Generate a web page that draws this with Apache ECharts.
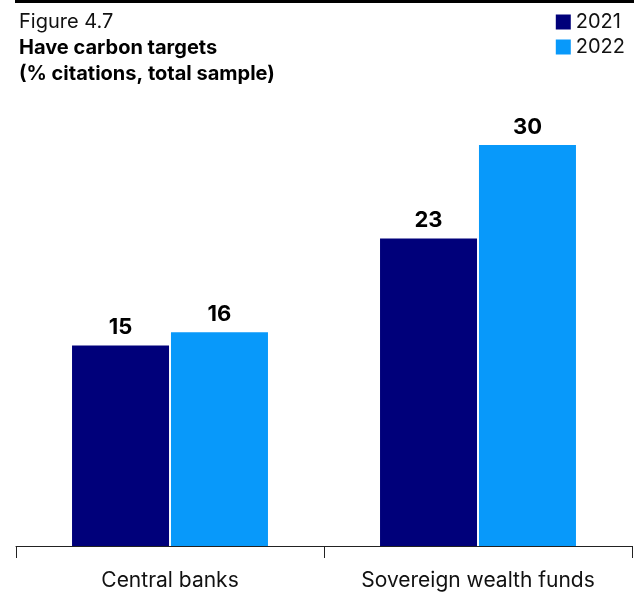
<!DOCTYPE html>
<html>
<head>
<meta charset="utf-8">
<script src="https://cdn.jsdelivr.net/npm/echarts@6/dist/echarts.min.js"></script>
<style>
  html, body { margin: 0; padding: 0; background: #fff; }
  #chart { width: 634px; height: 592px; }
</style>
</head>
<body>
<div id="chart"></div>
<script>
var categories = ['Central banks', 'Sovereign wealth funds']
var years = ['2021', '2022']
var values2021 = [15, 23]
var values2022 = [16, 30]

var font = 'Inter, "Noto Sans", sans-serif'
var chart = echarts.init(document.getElementById('chart'))

var labelStyle = {
  show: true,
  position: 'top',
  distance: 7,
  color: '#000',
  fontSize: 22,
  fontWeight: 'bold',
  fontFamily: font
}

chart.setOption({
  animation: false,
  textStyle: { fontFamily: font },
  graphic: [
    {
      type: 'rect',
      shape: { x: 15, y: 0, width: 619, height: 3 },
      style: { fill: '#000' }
    }
  ],
  title: [
    {
      text: 'Figure 4.7',
      left: 14,
      top: 7,
      textStyle: { fontFamily: font, fontSize: 20, fontWeight: 'normal', color: '#111' }
    },
    {
      text: 'Have carbon targets\n(% citations, total sample)',
      left: 14,
      top: 30,
      textStyle: { fontFamily: font, fontSize: 20, fontWeight: 'bold', color: '#000', lineHeight: 26 }
    }
  ],
  legend: {
    data: years,
    orient: 'vertical',
    right: 4,
    top: 7,
    itemWidth: 15,
    itemHeight: 15,
    itemGap: 5,
    icon: 'rect',
    textStyle: { fontFamily: font, fontSize: 20, color: '#111' }
  },
  grid: {
    left: 16,
    right: 2,
    top: 145,
    bottom: 46
  },
  xAxis: {
    type: 'category',
    data: categories,
    axisLine: { lineStyle: { color: '#222', width: 1 } },
    axisTick: { show: true, length: 12, lineStyle: { color: '#222' } },
    axisLabel: { color: '#111', fontSize: 21, margin: 24, fontFamily: font }
  },
  yAxis: {
    type: 'value',
    min: 0,
    max: 30,
    show: false
  },
  series: [
    {
      name: '2021',
      type: 'bar',
      data: values2021,
      barWidth: 97,
      barGap: '2%',
      itemStyle: { color: '#00007a' },
      label: labelStyle
    },
    {
      name: '2022',
      type: 'bar',
      data: values2022,
      barWidth: 97,
      itemStyle: { color: '#0899fa' },
      label: labelStyle
    }
  ]
})
</script>
</body>
</html>
